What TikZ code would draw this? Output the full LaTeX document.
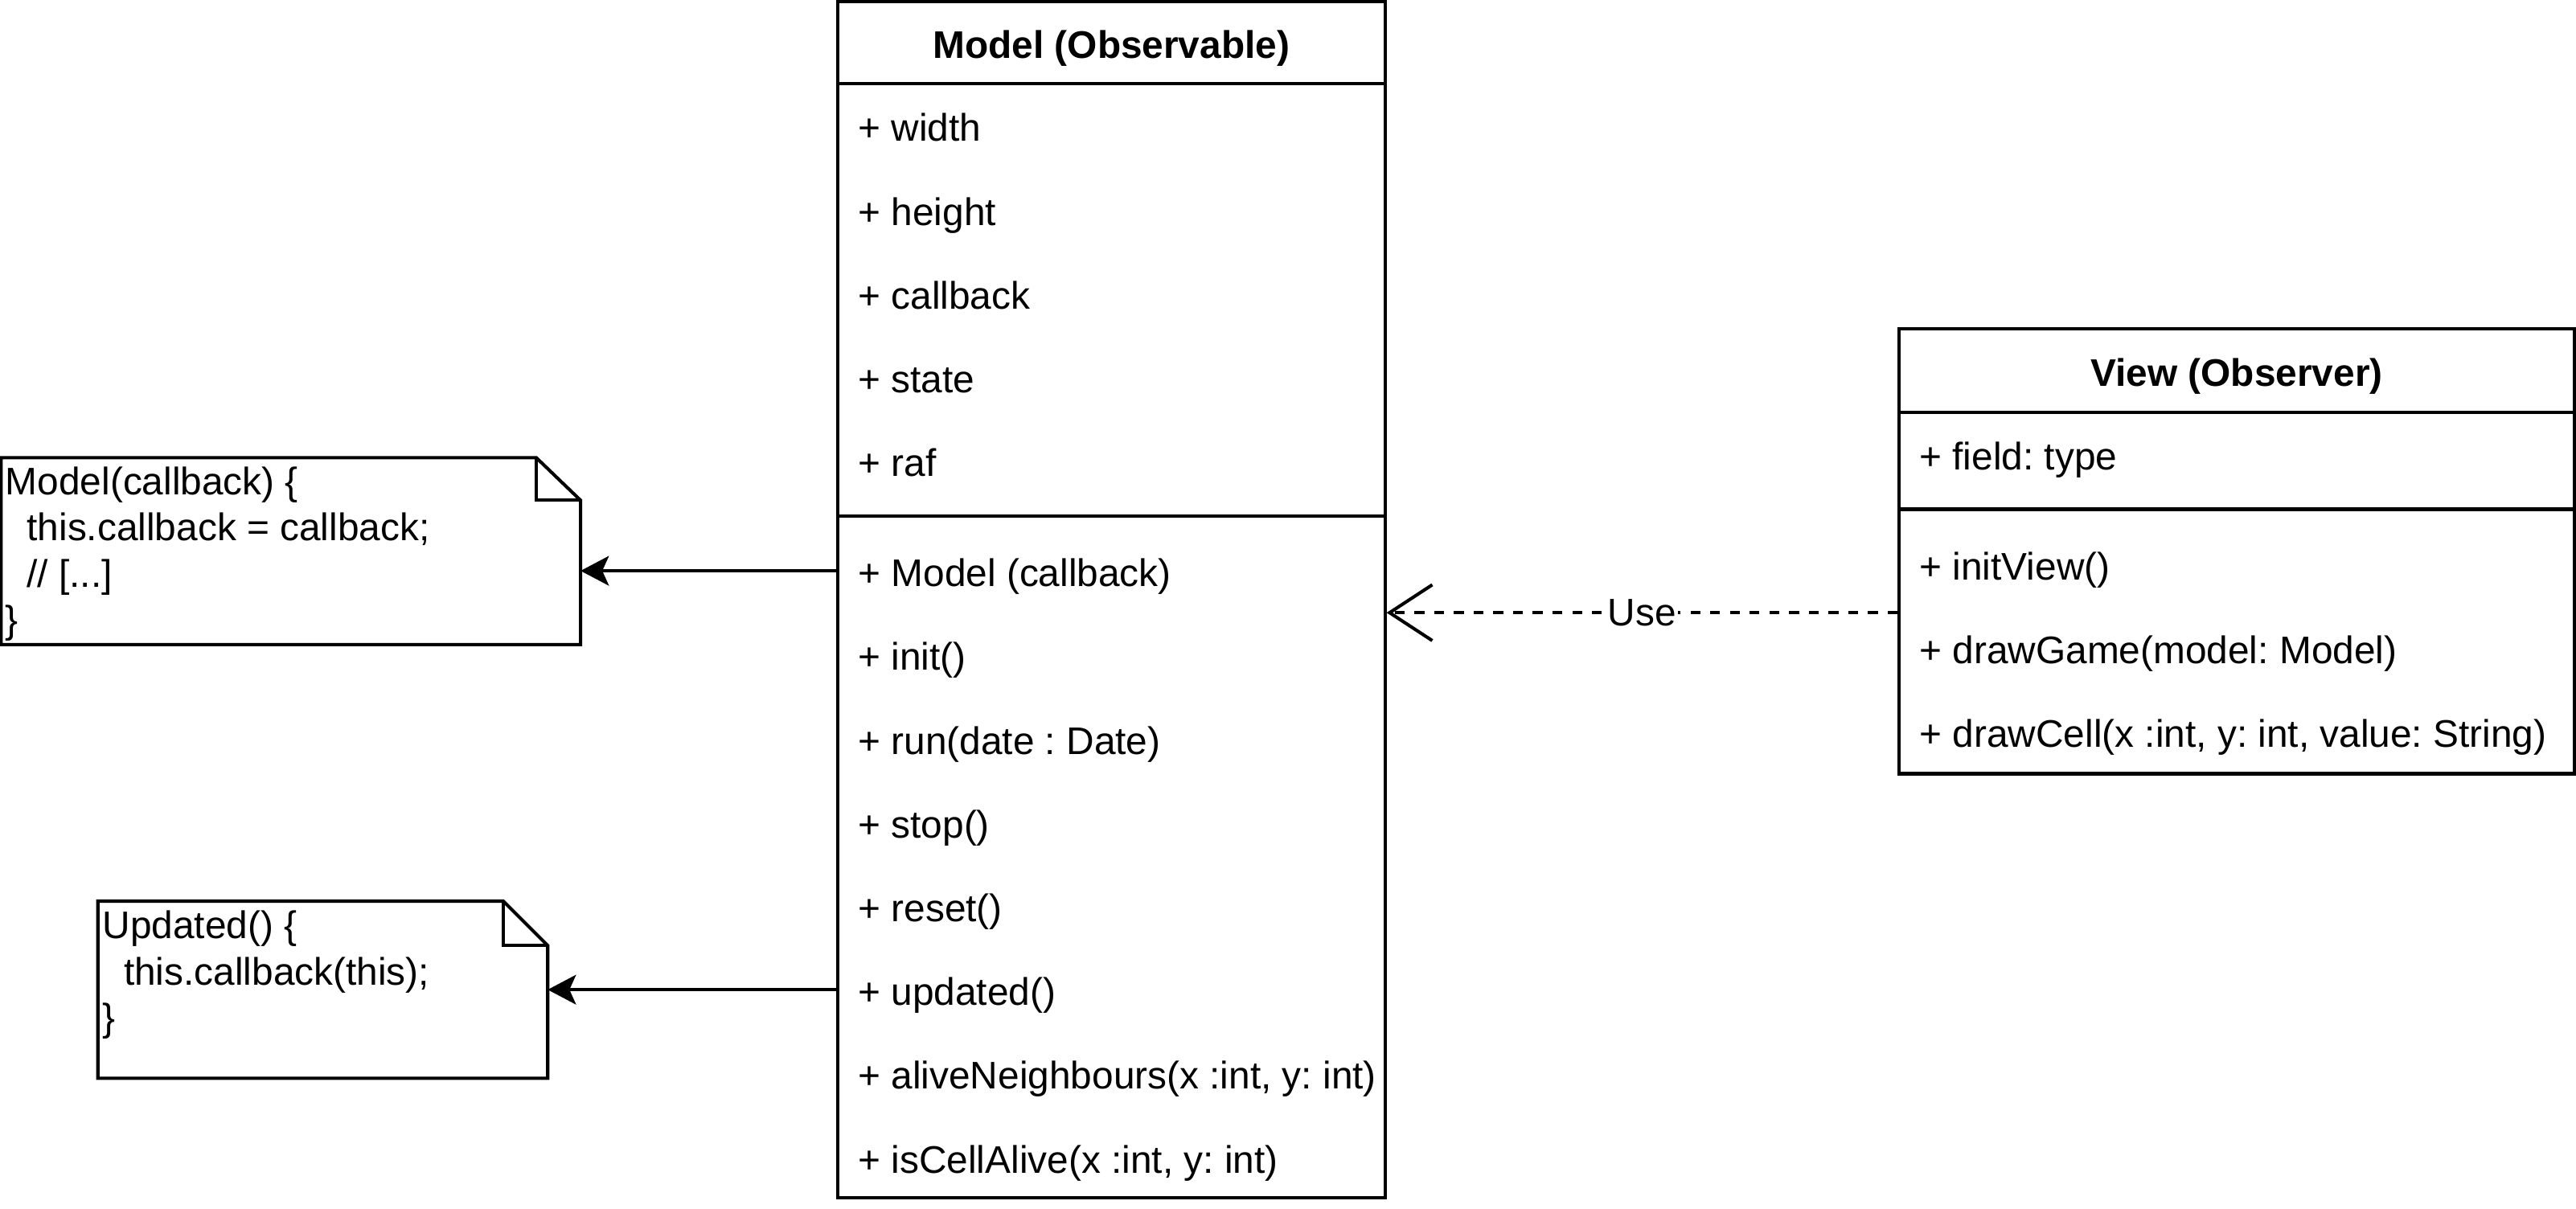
\documentclass[tikz,border=0pt]{standalone}
\usepackage{fontspec}
\setmainfont{Liberation Sans}
\usetikzlibrary{arrows.meta,fit}
\frenchspacing
\begin{document}
\begin{tikzpicture}[x=0.5pt,y=-0.5pt,
  every node/.style={font=\fontsize{11.7pt}{14.1pt}\selectfont},
  umlbox/.style={draw, line width=1pt, inner sep=0pt},
  frame/.style={inner sep=0pt},
  ttl/.style={font=\fontsize{11.7pt}{14.1pt}\selectfont\bfseries, inner sep=0pt, text height=12pt, text depth=2.4pt},
  row/.style={anchor=west, inner sep=0pt, text height=12pt, text depth=2.4pt},
  notetext/.style={anchor=base west, align=left, inner sep=0pt},
  sepline/.style={line width=1pt},
  noteline/.style={line width=1pt, line join=miter},
  callarrow/.style={line width=1pt, -{Stealth[length=8.6pt,width=9pt,inset=2pt]}},
  usearrow/.style={line width=1pt, dash pattern=on 3pt off 3pt, -{Straight Barb[length=13pt,width=17pt,line width=1pt]}},
  lbl/.style={fill=white, inner sep=0.5pt}]
\useasboundingbox (0,0) rectangle (1568,736);

% ---------- Model class ----------
\node[umlbox, fit={(510,1) (843,729)}] (model) {};
\node[ttl] (mtitle) at (676.5,26) {Model (Observable)};
\draw[sepline] (model.west |- 0,51) -- (model.east |- 0,51);
\node[row] (mf1) at (522,76.5) {+ width};
\node[row] (mf2) at (522,127.5) {+ height};
\node[row] (mf3) at (522,178.5) {+ callback};
\node[row] (mf4) at (522,229.5) {+ state};
\node[row] (mf5) at (522,280.5) {+ raf};
\draw[sepline] (model.west |- 0,314) -- (model.east |- 0,314);
\node[row] (mm1) at (522,347.5) {+ Model (callback)};
\node[row] (mm2) at (522,398.5) {+ init()};
\node[row] (mm3) at (522,449.5) {+ run(date : Date)};
\node[row] (mm4) at (522,500.5) {+ stop()};
\node[row] (mm5) at (522,551.5) {+ reset()};
\node[row] (mm6) at (522,602.5) {+ updated()};
\node[row] (mm7) at (522,653.5) {+ aliveNeighbours(x :int, y: int)};
\node[row] (mm8) at (522,704.5) {+ isCellAlive(x :int, y: int)};

% ---------- View class ----------
\node[umlbox, fit={(1156,200) (1567,471)}] (view) {};
\node[ttl] (vtitle) at (1361.5,225.5) {View (Observer)};
\draw[sepline] (view.west |- 0,251) -- (view.east |- 0,251);
\node[row] (vf1) at (1168,276.5) {+ field: type};
\draw[sepline] (view.west |- 0,310) -- (view.east |- 0,310);
\node[row] (vm1) at (1168,343.5) {+ initView()};
\node[row] (vm2) at (1168,394.5) {+ drawGame(model: Model)};
\node[row] (vm3) at (1168,445.5) {+ drawCell(x :int, y: int, value: String)};

% ---------- Note 1 ----------
\node[frame, fit={(1,279) (353,392)}] (note1) {};
\draw[noteline] (note1.north west) -- ([xshift=-13.5pt]note1.north east)
  -- ([yshift=-13pt]note1.north east) -- (note1.south east) -- (note1.south west) -- cycle;
\draw[noteline] ([xshift=-13.5pt]note1.north east) -- ([xshift=-13.5pt,yshift=-13pt]note1.north east)
  -- ([yshift=-13pt]note1.north east);
\node[notetext] (note1txt) at (3,385.6) {Model(callback) \{\\\hspace*{0.556em}this.callback = callback;\\\hspace*{0.556em}// [...]\\\}};

% ---------- Note 2 ----------
\node[frame, fit={(60,549) (333,656)}] (note2) {};
\draw[noteline] (note2.north west) -- ([xshift=-13.5pt]note2.north east)
  -- ([yshift=-13.5pt]note2.north east) -- (note2.south east) -- (note2.south west) -- cycle;
\draw[noteline] ([xshift=-13.5pt]note2.north east) -- ([xshift=-13.5pt,yshift=-13.5pt]note2.north east)
  -- ([yshift=-13.5pt]note2.north east);
\node[notetext] (note2txt) at (62,627.8) {Updated() \{\\\hspace*{0.556em}this.callback(this);\\\}};

% ---------- Connectors ----------
\draw[callarrow] (model.west |- mm1) -- (note1.east |- mm1);
\draw[callarrow] (model.west |- mm6) -- (note2.east |- mm6);
\coordinate (usey) at (0,373);
\draw[usearrow] (view.west |- usey) -- (model.east |- usey) node[midway, lbl] (uselbl) {Use};
\end{tikzpicture}
\end{document}
